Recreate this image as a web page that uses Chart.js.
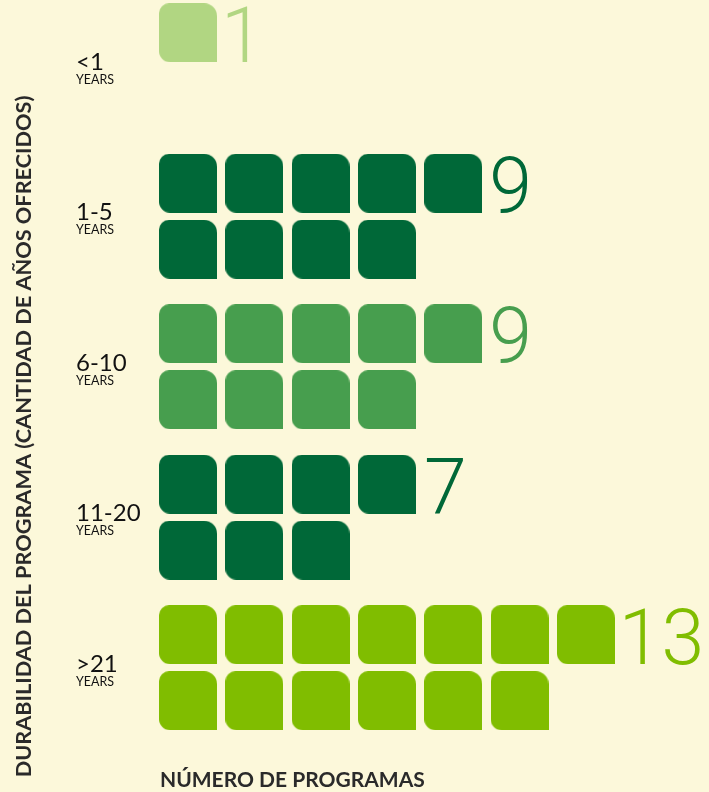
<!DOCTYPE html>
<html>
<head>
<meta charset="utf-8">
<script src="https://cdn.jsdelivr.net/npm/chart.js@4"></script>
<style>
  html, body { margin: 0; padding: 0; background: #fcf8da; }
  #wrap { width: 709px; height: 792px; }
</style>
</head>
<body>
<div id="wrap"><canvas id="chart" width="709" height="792"></canvas></div>
<script>
// data
const categories = ['<1', '1-5', '6-10', '11-20', '>21'];
const unitLabel = 'YEARS';
const programCounts = [1, 9, 9, 7, 13];
const tileColors = ['#b1d682', '#006838', '#479e4e', '#006838', '#80bd00'];
const xTitle = 'NÚMERO DE PROGRAMAS';
const yTitle = 'DURABILIDAD DEL PROGRAMA (CANTIDAD DE AÑOS OFRECIDOS)';

// layout (in axis units: 1 column / 1 row per tile)
const GROUP_STEP = 2.28;
const TILE_W = 58, TILE_H = 59;

function perFirstRow(n) { return Math.ceil(n / 2); }

// one tile image per colour, used as point style
function makeTile(color) {
  const c = document.createElement('canvas');
  c.width = TILE_W; c.height = TILE_H;
  const g = c.getContext('2d');
  g.fillStyle = color;
  g.beginPath();
  g.roundRect(0, 0, TILE_W, TILE_H, [10, 13, 0, 11]);
  g.fill();
  return c;
}

const datasets = categories.map((cat, i) => {
  const n = programCounts[i];
  const first = perFirstRow(n);
  const pts = [];
  for (let k = 0; k < n; k++) {
    const row = k < first ? 0 : 1;
    const col = k < first ? k : k - first;
    pts.push({ x: col, y: i * GROUP_STEP + row });
  }
  return {
    label: cat,
    data: pts,
    pointStyle: makeTile(tileColors[i]),
    pointRadius: 29,
    pointHoverRadius: 29,
    clip: false
  };
});

// count numbers, category labels and axis titles
const labelsPlugin = {
  id: 'pictoLabels',
  afterDatasetsDraw(chart) {
    const ctx = chart.ctx;
    const yScale = chart.scales.y;
    ctx.save();
    ctx.textAlign = 'left';
    ctx.textBaseline = 'alphabetic';
    chart.data.datasets.forEach((ds, i) => {
      const meta = chart.getDatasetMeta(i);
      const last = meta.data[perFirstRow(programCounts[i]) - 1];
      const txt = String(programCounts[i]);
      ctx.fillStyle = tileColors[i];
      ctx.font = '300 77px Roboto';
      const m = ctx.measureText(txt);
      ctx.fillText(txt, last.x + TILE_W / 2 + 10 + m.actualBoundingBoxLeft, last.y + TILE_H / 2);

      const yc = yScale.getPixelForValue(i * GROUP_STEP + 0.5);
      ctx.fillStyle = '#111';
      ctx.font = '24px Lato';
      ctx.fillText(categories[i], 76, yc + 4);
      ctx.font = '12.5px Lato';
      ctx.fillText(unitLabel, 76, yc + 18);
    });

    ctx.fillStyle = '#2a2a2a';
    ctx.font = 'bold 21px Lato';
    ctx.fillText(xTitle, 160, 787);

    ctx.font = 'bold 21.7px Lato';
    ctx.translate(31, 436.5);
    ctx.rotate(-Math.PI / 2);
    ctx.textAlign = 'center';
    ctx.fillText(yTitle, 0, 0);
    ctx.restore();
  }
};

new Chart(document.getElementById('chart'), {
  type: 'scatter',
  data: { datasets: datasets },
  options: {
    responsive: false,
    animation: false,
    events: [],
    layout: { padding: 0, autoPadding: false },
    plugins: { legend: { display: false }, tooltip: { enabled: false } },
    scales: {
      x: { type: 'linear', display: false, min: -2.836, max: 7.858 },
      y: { type: 'linear', display: false, reverse: true, min: -0.496, max: 11.504 }
    }
  },
  plugins: [labelsPlugin]
});
</script>
</body>
</html>
